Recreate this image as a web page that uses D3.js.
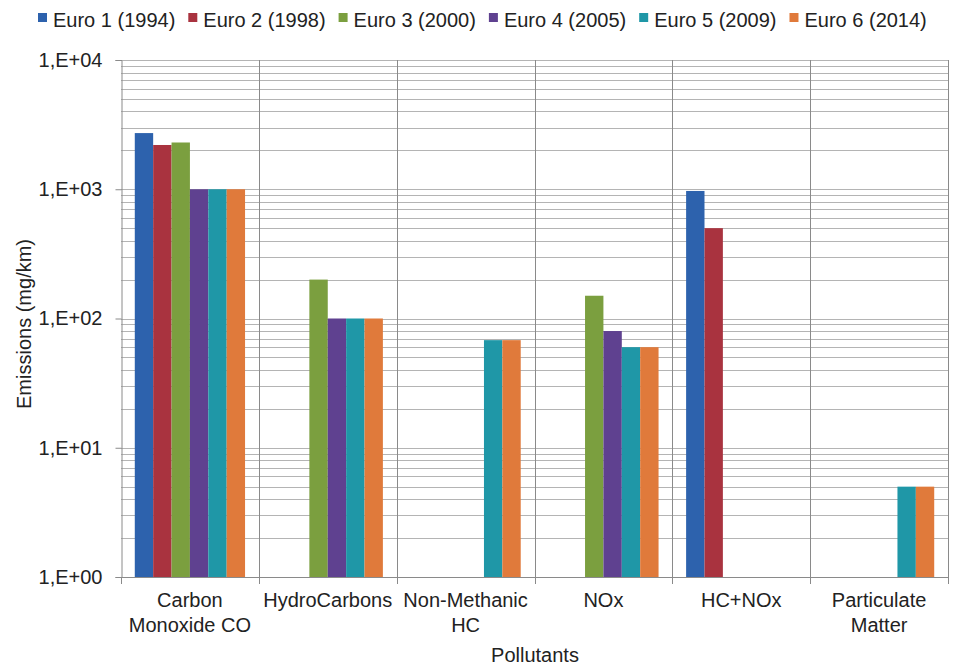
<!DOCTYPE html>
<html>
<head>
<meta charset="utf-8">
<script src="https://cdn.jsdelivr.net/npm/d3@7"></script>
<style>
  html, body { margin: 0; padding: 0; background: #fff; }
  svg { display: block; font-family: "Liberation Sans", Arial, sans-serif; }
</style>
</head>
<body>
<svg id="chart" width="953" height="666"></svg>
<script>
// Pollutant categories (two-line labels)
const categories = [
  ["Carbon", "Monoxide CO"],
  ["HydroCarbons"],
  ["Non-Methanic", "HC"],
  ["NOx"],
  ["HC+NOx"],
  ["Particulate", "Matter"]
];
// Emission standards
const series = ["Euro 1 (1994)", "Euro 2 (1998)", "Euro 3 (2000)", "Euro 4 (2005)", "Euro 5 (2009)", "Euro 6 (2014)"];
// Limits in mg/km per standard, one entry per category (null = no limit)
const euro1 = [2720, null, null, null, 970, null];
const euro2 = [2200, null, null, null, 500, null];
const euro3 = [2300, 200, null, 150, null, null];
const euro4 = [1000, 100, null, 80, null, null];
const euro5 = [1000, 100, 68, 60, null, 5];
const euro6 = [1000, 100, 68, 60, null, 5];
const values = [euro1, euro2, euro3, euro4, euro5, euro6];
const colors = ["#2d62ad", "#a9333f", "#7b9f3f", "#5f4190", "#1f97a7", "#e07a3b"];
const tickValues = [1, 10, 100, 1000, 10000];
const tickLabels = ["1,E+00", "1,E+01", "1,E+02", "1,E+03", "1,E+04"];

const FS = 20;
const svg = d3.select("#chart");
const m = { left: 121, right: 948, top: 60, bottom: 577 };

const x0 = d3.scaleBand().domain(d3.range(categories.length)).range([m.left, m.right]).paddingInner(0).paddingOuter(0);
const x1 = d3.scaleBand().domain(d3.range(series.length)).range([0, x0.bandwidth()]).paddingOuter(0.75).paddingInner(0);
const y = d3.scaleLog().domain([1, 10000]).range([m.bottom, m.top]);

// Horizontal gridlines: major and minor decades
const gridVals = [];
for (let e = 0; e < 4; e++) for (let k = 1; k <= 9; k++) gridVals.push(k * Math.pow(10, e));
gridVals.push(10000);
svg.append("g").selectAll("line").data(gridVals).join("line")
  .attr("x1", m.left).attr("x2", m.right)
  .attr("y1", d => Math.round(y(d)) + 0.5).attr("y2", d => Math.round(y(d)) + 0.5)
  .attr("stroke", "#b4b4b4").attr("stroke-width", 1);

// Vertical category separators
const seps = d3.range(1, categories.length + 1).map(i => x0(i - 1) + x0.bandwidth());
svg.append("g").selectAll("line").data(seps).join("line")
  .attr("x1", d => Math.round(d) + 0.5).attr("x2", d => Math.round(d) + 0.5)
  .attr("y1", m.top).attr("y2", m.bottom + 7)
  .attr("stroke", "#8a8a8a").attr("stroke-width", 1);

// Bars
const bars = [];
values.forEach((arr, s) => arr.forEach((v, c) => { if (v != null) bars.push({ s, c, v }); }));
svg.append("g").selectAll("rect").data(bars).join("rect")
  .attr("x", d => x0(d.c) + x1(d.s))
  .attr("width", x1.bandwidth())
  .attr("y", d => y(d.v))
  .attr("height", d => y(1) - y(d.v))
  .attr("fill", d => colors[d.s]);

// Y axis
const yAxis = d3.axisLeft(y).tickValues(tickValues).tickFormat((d, i) => tickLabels[i]).tickSize(6).tickPadding(13);
const gy = svg.append("g").attr("transform", `translate(${m.left + 0.5},0)`).call(yAxis);
gy.select(".domain").attr("stroke", "#8a8a8a");
gy.selectAll(".tick line").attr("stroke", "#8a8a8a");
gy.selectAll(".tick text").attr("font-size", FS).attr("fill", "#222").attr("font-family", "Liberation Sans, Arial, sans-serif");

// X axis baseline
svg.append("line").attr("x1", m.left).attr("x2", m.right)
  .attr("y1", m.bottom + 0.5).attr("y2", m.bottom + 0.5).attr("stroke", "#8a8a8a");
svg.append("line").attr("x1", m.left + 0.5).attr("x2", m.left + 0.5)
  .attr("y1", m.bottom).attr("y2", m.bottom + 7).attr("stroke", "#8a8a8a");

// Category labels
const cl = svg.append("g").attr("font-size", FS).attr("fill", "#222").attr("text-anchor", "middle");
categories.forEach((lines, i) => {
  const cx = x0(i) + x0.bandwidth() / 2;
  const t = cl.append("text").attr("x", cx).attr("y", 607);
  lines.forEach((ln, j) => t.append("tspan").attr("x", cx).attr("dy", j === 0 ? 0 : 25).text(ln));
});

// Axis titles
svg.append("text").attr("x", 535).attr("y", 662).attr("text-anchor", "middle")
  .attr("font-size", FS).attr("fill", "#222").text("Pollutants");
svg.append("text").attr("transform", "translate(31,324) rotate(-90)").attr("text-anchor", "middle")
  .attr("font-size", FS).attr("fill", "#222").text("Emissions (mg/km)");

// Legend
const lg = svg.append("g").attr("font-size", FS).attr("fill", "#222");
let lx = 38;
series.forEach((name, i) => {
  lg.append("rect").attr("x", lx).attr("y", 13).attr("width", 9).attr("height", 9).attr("fill", colors[i]);
  const t = lg.append("text").attr("x", lx + 15).attr("y", 27).text(name);
  lx += 15 + t.node().getComputedTextLength() + 13;
});
</script>
</body>
</html>
